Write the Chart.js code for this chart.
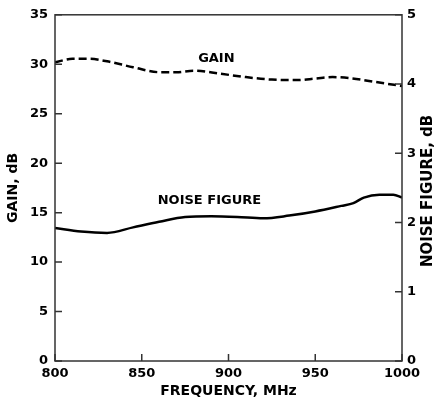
<!DOCTYPE html>
<html>
<head>
<meta charset="utf-8">
<script src="https://cdn.jsdelivr.net/npm/chart.js@4"></script>
<style>
  html, body { margin: 0; padding: 0; background: #fff; }
  #wrap { width: 437px; height: 404px; }
</style>
</head>
<body>
<div id="wrap"><canvas id="chart"></canvas></div>
<script>
// gain curve (left axis, dB)
const gainFreq = [800, 810, 820, 830, 845, 860, 870, 880, 895, 910, 925, 940, 950, 960, 970, 985, 1000];
const gainDb   = [30.2, 30.55, 30.55, 30.3, 29.7, 29.2, 29.2, 29.35, 29.05, 28.7, 28.45, 28.4, 28.55, 28.7, 28.6, 28.2, 27.8];

// noise figure curve (right axis, dB)
const nfFreq = [800, 815, 830, 845, 860, 875, 890, 905, 920, 935, 950, 965, 972, 978, 987, 995, 1000];
const nfDb   = [1.92, 1.87, 1.85, 1.93, 2.01, 2.08, 2.09, 2.08, 2.06, 2.1, 2.16, 2.24, 2.28, 2.36, 2.4, 2.4, 2.36];

const xTicks = [800, 850, 900, 950, 1000];
const gainTicks = [0, 5, 10, 15, 20, 25, 30, 35];
const nfTicks = [0, 1, 2, 3, 4, 5];

// curve labels, placed in data coordinates
const curveLabels = [
  { text: 'GAIN', x: 893, y: 30.6, axis: 'y' },
  { text: 'NOISE FIGURE', x: 889, y: 2.32, axis: 'y1' }
];
const rightTitle = 'NOISE FIGURE, dB';

const ink = '#000';
const frame = '#333';
const fontFam = '"DejaVu Sans", sans-serif';

function toPoints(xs, ys) {
  return xs.map((x, i) => ({ x: x, y: ys[i] }));
}

// box + inward tick marks + curve labels + right axis title (reads upward)
const framePlugin = {
  id: 'framePlugin',
  afterDraw(chart) {
    const ctx = chart.ctx;
    const a = chart.chartArea;
    const sx = chart.scales.x, sy = chart.scales.y, sy1 = chart.scales.y1;
    ctx.save();
    ctx.strokeStyle = frame;
    ctx.lineWidth = 1.5;
    ctx.strokeRect(a.left, a.top, a.right - a.left, a.bottom - a.top);
    ctx.beginPath();
    const tl = 7;
    xTicks.forEach(v => {
      const px = sx.getPixelForValue(v);
      ctx.moveTo(px, a.bottom);
      ctx.lineTo(px, a.bottom - tl);
    });
    gainTicks.forEach(v => {
      const py = sy.getPixelForValue(v);
      ctx.moveTo(a.left, py);
      ctx.lineTo(a.left + tl, py);
    });
    nfTicks.forEach(v => {
      const py = sy1.getPixelForValue(v);
      ctx.moveTo(a.right, py);
      ctx.lineTo(a.right - tl, py);
    });
    ctx.stroke();

    ctx.fillStyle = ink;
    ctx.font = 'bold 13px ' + fontFam;
    ctx.textAlign = 'center';
    ctx.textBaseline = 'middle';
    curveLabels.forEach(l => {
      const px = sx.getPixelForValue(l.x);
      const py = chart.scales[l.axis].getPixelForValue(l.y);
      ctx.fillText(l.text, px, py);
    });

    ctx.font = 'bold 15px ' + fontFam;
    ctx.translate(chart.width - 9, (a.top + a.bottom) / 2 + 3);
    ctx.rotate(-Math.PI / 2);
    ctx.fillText(rightTitle, 0, 0);
    ctx.restore();
  }
};

const tickFont = { family: fontFam, size: 13, weight: 'bold' };
const titleFont = { family: fontFam, size: 14, weight: 'bold' };

new Chart(document.getElementById('chart'), {
  type: 'line',
  data: {
    datasets: [
      {
        label: 'GAIN',
        data: toPoints(gainFreq, gainDb),
        yAxisID: 'y',
        borderColor: ink,
        borderWidth: 2.5,
        borderDash: [8, 4],
        pointRadius: 0,
        cubicInterpolationMode: 'monotone',
        fill: false
      },
      {
        label: 'NOISE FIGURE',
        data: toPoints(nfFreq, nfDb),
        yAxisID: 'y1',
        borderColor: ink,
        borderWidth: 2.5,
        pointRadius: 0,
        cubicInterpolationMode: 'monotone',
        fill: false
      }
    ]
  },
  options: {
    responsive: true,
    maintainAspectRatio: false,
    animation: false,
    layout: { padding: { top: 14, left: 0, right: 0, bottom: 0 } },
    plugins: {
      legend: { display: false },
      tooltip: { enabled: false }
    },
    scales: {
      x: {
        type: 'linear',
        min: 800,
        max: 1000,
        afterBuildTicks: s => { s.ticks = xTicks.map(v => ({ value: v })); },
        afterFit: s => { s.height = 43; },
        grid: { display: false, drawTicks: false },
        border: { display: false },
        ticks: { color: ink, padding: 5, font: tickFont, callback: v => String(v) },
        title: { display: true, text: 'FREQUENCY, MHz', color: ink, padding: { top: 0, bottom: 4 }, font: titleFont }
      },
      y: {
        position: 'left',
        min: 0,
        max: 35,
        afterBuildTicks: s => { s.ticks = gainTicks.map(v => ({ value: v })); },
        afterFit: s => { s.width = 55; },
        grid: { display: false, drawTicks: false },
        border: { display: false },
        ticks: { color: ink, padding: 7, font: tickFont, callback: v => String(v) },
        title: { display: true, text: 'GAIN, dB', color: ink, padding: { top: 5, bottom: 0 }, font: titleFont }
      },
      y1: {
        position: 'right',
        min: 0,
        max: 5,
        afterBuildTicks: s => { s.ticks = nfTicks.map(v => ({ value: v })); },
        afterFit: s => { s.width = 35; },
        grid: { display: false, drawTicks: false },
        border: { display: false },
        ticks: { color: ink, padding: 5, font: tickFont, callback: v => String(v) },
        title: { display: false }
      }
    }
  },
  plugins: [framePlugin]
});
</script>
</body>
</html>
